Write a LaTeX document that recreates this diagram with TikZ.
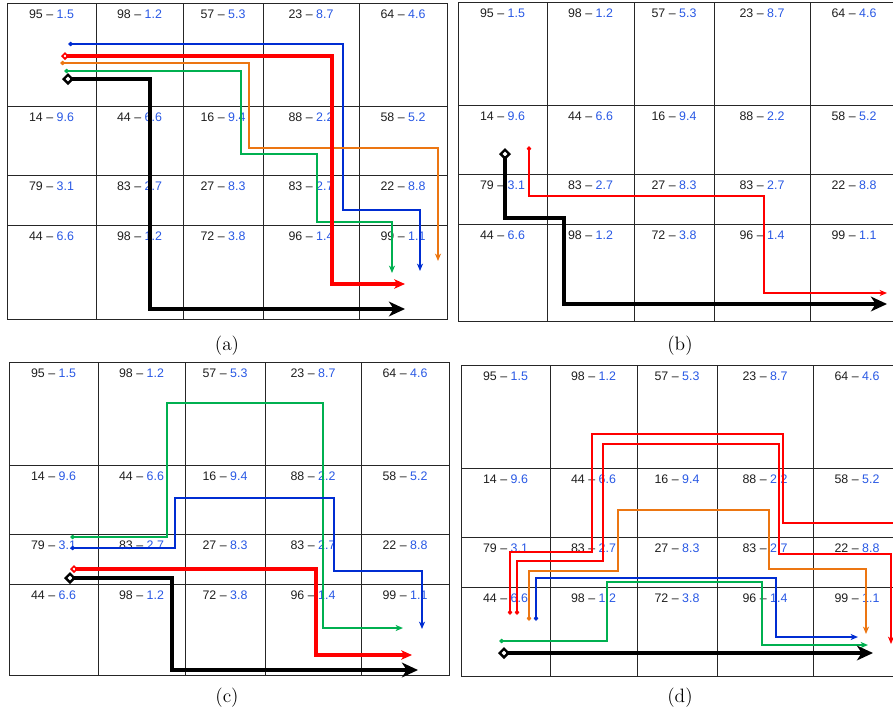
\documentclass[tikz,border=0pt]{standalone}
\usepackage{fontspec}
\newfontfamily\cellfont{Liberation Sans}
\usetikzlibrary{arrows.meta}

\definecolor{valblue}{RGB}{40,88,228}
\definecolor{pblue}{RGB}{0,45,210}
\definecolor{porange}{RGB}{236,118,18}
\definecolor{pgreen}{RGB}{0,176,80}
\definecolor{pred}{RGB}{255,0,0}

% one 5x4 panel of cells: #1 name, #2/#3 top-left corner, #4 height
\newcommand{\cellgrid}[4]{%
  \begin{scope}[shift={(#2,#3)}]
    \draw[gridline] (0,0) rectangle (440,#4);
    \foreach \gx in {89,176,256,352} \draw[gridline] (\gx,0) -- (\gx,#4);
    \foreach \gy in {103,172,222} \draw[gridline] (0,\gy) -- (440,\gy);
    \foreach \vals [count=\r] in {{95/1.5,98/1.2,57/5.3,23/8.7,64/4.6},
        {14/9.6,44/6.6,16/9.4,88/2.2,58/5.2},
        {79/3.1,83/2.7,27/8.3,83/2.7,22/8.8},
        {44/6.6,98/1.2,72/3.8,96/1.4,99/1.1}}
      \foreach \p/\q [count=\c] in \vals {
        \pgfmathsetmacro\tx{{44.5,132.5,216,304,396}[\c-1]}
        \pgfmathsetmacro\ty{{0,103,172,222}[\r-1]+11}
        \node[cell] (#1-\r-\c) at (\tx,\ty) {\p\ \textendash\ \textcolor{valblue}{\q}};
      }
  \end{scope}}

\begin{document}
\begin{tikzpicture}[
  x=0.75pt, y=-0.75pt,
  gridline/.style={draw=black!85, line width=0.75pt},
  cell/.style={font=\cellfont\fontsize{9.3}{11}\selectfont, text=black!88, inner sep=0pt},
  caption/.style={font=\fontsize{14.5}{17}\selectfont, inner sep=0pt},
  ar/.style={line width=1pt, line join=miter,
             {Diamond[length=4pt,width=3.5pt]}-{Stealth[length=5.5pt,width=4.5pt,inset=1.5pt]}},
  armid/.style={ar, line width=1.8pt},
  arthick/.style={line width=2.6pt, line join=miter,
             {Diamond[open,line width=1.2pt,length=6pt,width=6pt]}-{Stealth[length=8pt,width=7pt,inset=2pt]}},
  arbold/.style={line width=3.4pt, line join=miter, black,
             {Diamond[open,line width=1.8pt,length=9pt,width=9pt]}-{Stealth[length=12pt,width=11pt,inset=3.5pt]}},
]
\useasboundingbox (0,0) rectangle (893,719);
\clip (0,0) rectangle (893,719);

% ---- the four panels ----
\cellgrid{pa}{7}{3}{316}
\cellgrid{pb}{458}{2}{319}
\cellgrid{pc}{9}{362}{313}
\cellgrid{pd}{461}{365}{311}

\node[caption] (lab-a) at (227,346) {(a)};
\node[caption] (lab-b) at (680,346) {(b)};
\node[caption] (lab-c) at (227,698) {(c)};
\node[caption] (lab-d) at (680,698) {(d)};

% ---- (a) ----
\coordinate (a-bs) at (68,44);   \coordinate (a-be) at (420,271);
\coordinate (a-rs) at (61,56);   \coordinate (a-re) at (405,284);
\coordinate (a-os) at (60,63);   \coordinate (a-oe) at (438,261);
\coordinate (a-gs) at (64,71);   \coordinate (a-ge) at (392,273);
\coordinate (a-ks) at (62,79);   \coordinate (a-ke) at (405,309);
\draw[ar, pblue] (a-bs) -| (343,210) -| (a-be);
\draw[ar, porange] (a-os) -| (249,148) -| (a-oe);
\draw[ar, pgreen] (a-gs) -| (241,154) -| (317,222) -| (a-ge);
\draw[arthick, pred] (a-rs) -| (332,284) -- (a-re);
\draw[arbold] (a-ks) -| (150,309) -- (a-ke);

% ---- (b) ----
\coordinate (b-rs) at (529,146); \coordinate (b-re) at (887,293);
\coordinate (b-ks) at (505,148); \coordinate (b-ke) at (887,304);
\draw[ar, pred, line width=1.3pt] (b-rs) |- (764,196) |- (b-re);
\draw[arbold] (b-ks) |- (564,218) |- (b-ke);

% ---- (c) ----
\coordinate (c-gs) at (70,537);  \coordinate (c-ge) at (403,628);
\coordinate (c-bs) at (70,548);  \coordinate (c-be) at (422,629);
\coordinate (c-rs) at (70,569);  \coordinate (c-re) at (412,655);
\coordinate (c-ks) at (64,578);  \coordinate (c-ke) at (418,670);
\draw[ar, pgreen] (c-gs) -| (167,403) -| (323,628) -- (c-ge);
\draw[ar, pblue] (c-bs) -| (175,498) -| (334,571) -| (c-be);
\draw[arthick, pred] (c-rs) -| (316,655) -- (c-re);
\draw[arbold] (c-ks) -| (172,670) -- (c-ke);

% ---- (d) ----
\coordinate (d-r1s) at (510,615); \coordinate (d-r1e) at (912,523);
\coordinate (d-r2s) at (517,615); \coordinate (d-r2e) at (891,644);
\coordinate (d-os) at (529,621);  \coordinate (d-oe) at (866,634);
\coordinate (d-bs) at (536,621);  \coordinate (d-be) at (858,637);
\coordinate (d-gs) at (499,641);  \coordinate (d-ge) at (868,645);
\coordinate (d-ks) at (498,653);  \coordinate (d-ke) at (873,653);
\draw[ar, pred] (d-r1s) |- (592,552) |- (783,434) |- (d-r1e);
\draw[ar, pred] (d-r2s) |- (603,561) |- (779,444) |- (891,554) -- (d-r2e);
\draw[ar, porange] (d-os) |- (618,571) |- (769,510) |- (866,569) -- (d-oe);
\draw[ar, pgreen] (d-gs) -| (607,582) -| (762,645) -- (d-ge);
\draw[armid, pblue] (d-bs) |- (776,578) |- (d-be);
\draw[arbold] (d-ks) -- (d-ke);
\end{tikzpicture}
\end{document}
